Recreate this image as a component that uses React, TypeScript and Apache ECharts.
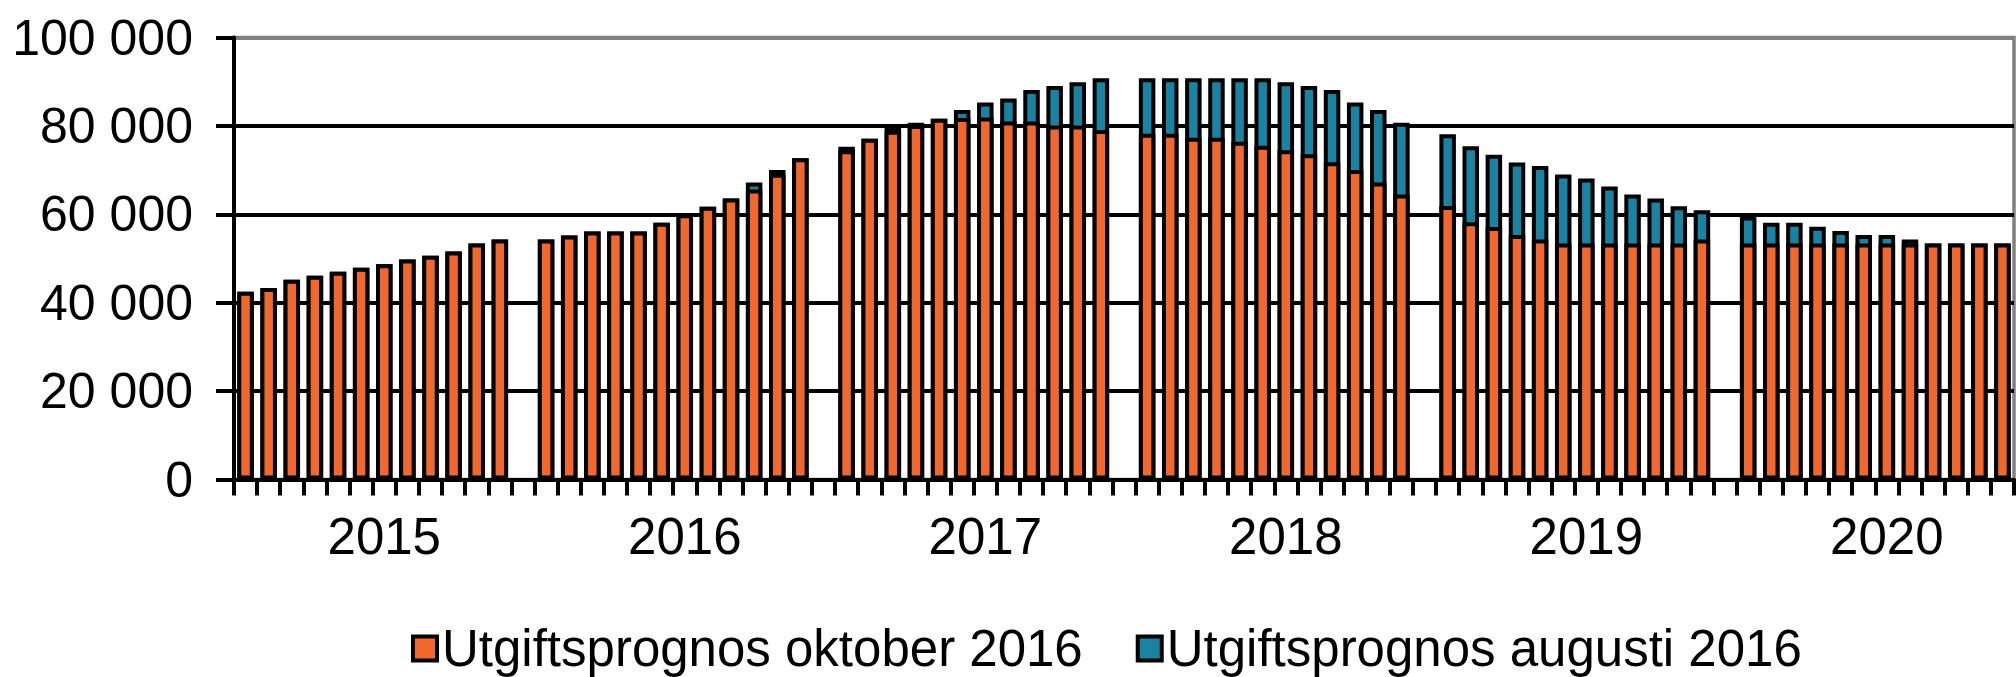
import React, { useEffect, useRef } from "react";
import * as echarts from "echarts";

const years = ["2015", "2016", "2017", "2018", "2019", "2020"];

const oktober2015 = [42500, 43300, 45200, 46100, 47000, 47900, 48700, 49800, 50600, 51600, 53400, 54300];
const oktober2016 = [54300, 55200, 56100, 56100, 56100, 58100, 60000, 61700, 63600, 65600, 69200, 72700];
const oktober2017 = [74500, 77100, 78900, 80200, 81600, 81800, 81900, 81000, 81000, 80100, 80100, 79100];
const oktober2018 = [78200, 78200, 77300, 77300, 76400, 75500, 74500, 73600, 71800, 70000, 67200, 64500];
const oktober2019 = [61900, 58200, 57100, 55300, 54300, 53400, 53400, 53400, 53400, 53400, 53400, 54300];
const oktober2020 = [53400, 53400, 53400, 53400, 53400, 53400, 53400, 53400, 53400, 53400, 53400, 53400];

const augusti2015 = [42500, 43300, 45200, 46100, 47000, 47900, 48700, 49800, 50600, 51600, 53400, 54300];
const augusti2016 = [54300, 55200, 56100, 56100, 56100, 58100, 60000, 61700, 63600, 67200, 70000, 72700];
const augusti2017 = [75300, 77100, 79700, 80700, 81600, 83600, 85300, 86200, 88100, 89000, 89900, 90800];
const augusti2018 = [90800, 90800, 90800, 90800, 90800, 90800, 89900, 89000, 88100, 85300, 83600, 80700];
const augusti2019 = [78100, 75400, 73500, 71700, 70900, 69000, 68100, 66300, 64500, 63600, 61800, 60900];
const augusti2020 = [59500, 58100, 58100, 57200, 56200, 55300, 55300, 54300, 53400, 53400, 53400, 53400];

const yTicks = [0, 20000, 40000, 60000, 80000, 100000];

const legendOktober = "Utgiftsprognos oktober 2016";
const legendAugusti = "Utgiftsprognos augusti 2016";

const oktoberByYear = [oktober2015, oktober2016, oktober2017, oktober2018, oktober2019, oktober2020];
const augustiByYear = [augusti2015, augusti2016, augusti2017, augusti2018, augusti2019, augusti2020];

const FONT = "'Liberation Sans', Arial, sans-serif";

function buildSlots() {
  const cats: string[] = [];
  const okt: (number | null)[] = [];
  const aug: (number | null)[] = [];
  years.forEach((y, yi) => {
    for (let m = 0; m < 12; m++) {
      cats.push(`${y}-${m + 1}`);
      okt.push(oktoberByYear[yi][m]);
      aug.push(augustiByYear[yi][m]);
    }
    if (yi < years.length - 1) {
      cats.push(`${y}-gap`);
      okt.push(null);
      aug.push(null);
    }
  });
  return { cats, okt, aug };
}

function fmt(v: number) {
  return String(v).replace(/\B(?=(\d{3})+(?!\d))/g, " ");
}

export default function App() {
  const ref = useRef<HTMLDivElement>(null);
  useEffect(() => {
    if (!ref.current) return;
    const chart = echarts.init(ref.current, undefined, { renderer: "svg" });
    const { cats, okt, aug } = buildSlots();
    chart.setOption({
      animation: false,
      backgroundColor: "#ffffff",
      grid: {
        left: 234,
        right: 2,
        top: 37.5,
        bottom: 197.5,
        show: true,
        borderColor: "#808080",
        borderWidth: 3.5,
        backgroundColor: "transparent",
      },
      legend: {
        data: [legendOktober, legendAugusti],
        left: 411,
        top: 623,
        padding: 0,
        icon: "rect",
        itemWidth: 24,
        itemHeight: 24,
        itemGap: 53,
        itemStyle: { borderColor: "#000", borderWidth: 4 },
        textStyle: { fontSize: 51, color: "#000", fontFamily: FONT, padding: [0, 0, 14, 0] },
      },
      xAxis: {
        type: "category",
        data: cats,
        boundaryGap: true,
        axisLine: { show: true, lineStyle: { color: "#000", width: 4 } },
        axisTick: { show: true, interval: 0, length: 16, lineStyle: { color: "#000", width: 4 } },
        axisLabel: {
          interval: (i: number) => i % 13 === 6,
          formatter: (v: string) => v.slice(0, 4),
          fontSize: 51,
          color: "#000",
          fontFamily: FONT,
          margin: 31,
        },
        splitLine: { show: false },
      },
      yAxis: {
        type: "value",
        min: yTicks[0],
        max: yTicks[yTicks.length - 1],
        interval: yTicks[1] - yTicks[0],
        axisLine: { show: true, lineStyle: { color: "#000", width: 4 } },
        axisTick: { show: true, length: 18, lineStyle: { color: "#000", width: 4 } },
        axisLabel: {
          formatter: (v: number) => fmt(v),
          fontSize: 50,
          color: "#000",
          fontFamily: FONT,
          margin: 41,
          padding: [0, 0, 7, 0],
        },
        splitLine: {
          show: true,
          lineStyle: { color: ["#000", "#000", "#000", "#000", "#000", "#808080"], width: 4 },
        },
      },
      series: [
        {
          name: legendAugusti,
          type: "bar",
          data: aug,
          barWidth: 16.5,
          barGap: "-100%",
          itemStyle: { color: "#1A83A1", borderColor: "#000", borderWidth: 4 },
        },
        {
          name: legendOktober,
          type: "bar",
          data: okt,
          barWidth: 16.5,
          barGap: "-100%",
          itemStyle: { color: "#F1682F", borderColor: "#000", borderWidth: 4 },
        },
      ],
    });
    return () => chart.dispose();
  }, []);
  return (
    <div
      ref={ref}
      style={{ position: "absolute", left: 0, top: 0, width: 2016, height: 677, background: "#fff" }}
    />
  );
}
